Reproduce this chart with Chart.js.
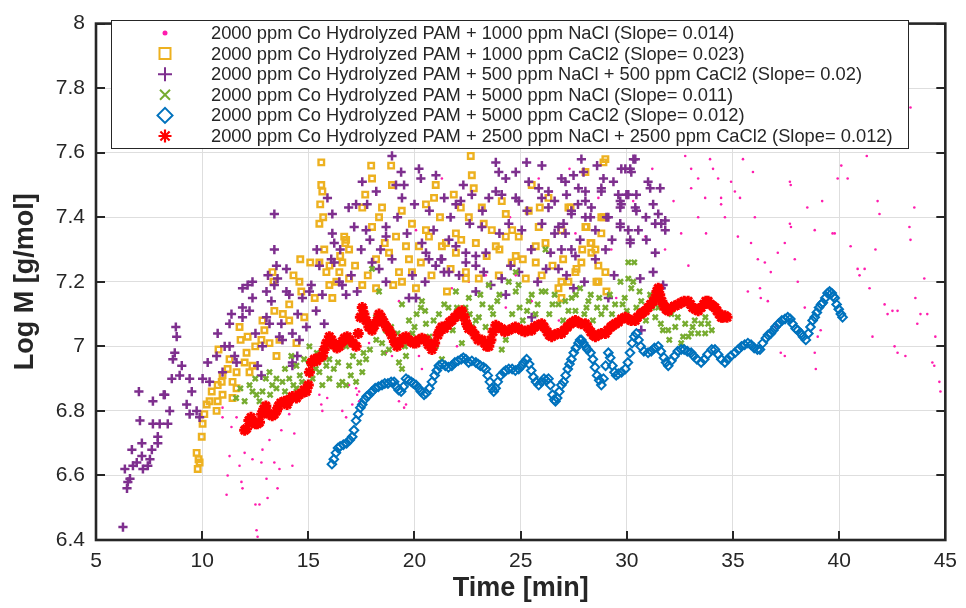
<!DOCTYPE html>
<html><head><meta charset="utf-8">
<script src="https://cdn.jsdelivr.net/npm/chart.js@4.4.1/dist/chart.umd.min.js"></script>
<style>html,body{margin:0;padding:0;background:#fff}#wrap{position:relative;width:966px;height:608px}</style>
</head><body><div id="wrap"><canvas id="c" width="966" height="608"></canvas></div>
<script>
const FONT = "'Liberation Sans', Arial, Helvetica, sans-serif";
const xTitle = 'Time [min]';
const yTitle = 'Log M [g/mol]';
const legendLabels = [
  '2000 ppm Co Hydrolyzed PAM + 1000 ppm NaCl (Slope= 0.014)',
  '2000 ppm Co Hydrolyzed PAM + 1000 ppm CaCl2 (Slope= 0.023)',
  '2000 ppm Co Hydrolyzed PAM + 500 ppm NaCl + 500 ppm CaCl2 (Slope= 0.02)',
  '2000 ppm Co Hydrolyzed PAM + 5000 ppm NaCl (Slope= 0.011)',
  '2000 ppm Co Hydrolyzed PAM + 5000 ppm CaCl2 (Slope= 0.012)',
  '2000 ppm Co Hydrolyzed PAM + 2500 ppm NaCl + 2500 ppm CaCl2 (Slope= 0.012)'
];

// Series 1: 1000 ppm NaCl (magenta dots)
const nacl1000 = [[10.96,6.78],[11.38,6.75],[11.29,6.66],[11.76,6.63],[11.2,6.6],[11.15,6.54],[11.85,6.58],[11.9,6.56],[12.0,6.67],[12.37,6.65],[12.84,6.68],[12.79,6.64],[13.03,6.59],[13.17,6.71],[13.55,6.56],[13.4,6.64],[13.64,6.62],[12.7,6.51],[13.08,6.53],[12.51,6.51],[12.56,6.43],[12.61,6.41],[13.73,6.74],[14.34,6.73],[14.25,6.63],[14.1,6.79],[10.96,6.81],[15.52,6.85],[15.66,6.8],[15.89,6.84],[16.6,6.8],[16.78,6.78],[19.27,6.83],[19.51,6.81],[17.25,6.87],[11.62,6.78],[13.97,6.83],[15.61,6.82],[17.39,6.83],[17.07,6.82],[20.35,6.93],[20.21,6.97],[17.86,7.01],[18.94,6.97],[16.92,6.88],[17.3,6.85],[22.56,7.2],[25.85,7.52],[26.46,7.48],[27.58,7.35],[29.27,7.3],[30.87,7.34],[28.66,7.46],[23.36,7.22],[21.76,7.18],[24.3,7.12],[19.27,7.14],[17.72,7.08],[18.66,6.98],[17.39,6.86],[19.6,6.82],[15.37,6.98],[24.77,7.22],[25.52,7.14],[20.07,7.36],[21.29,7.52],[22.0,7.0],[23.8,7.05],[26.8,7.08],[29.5,7.15],[30.3,7.45],[31.8,7.3],[32.2,7.45],[31.2,7.55],[32.9,7.25],[27.3,7.55],[24.5,7.4],[21.3,7.05],
  [32.75,7.59],[33.03,7.55],[33.36,7.52],[33.92,7.58],[34.06,7.55],[34.3,7.52],[34.91,7.51],[35.47,7.58],[35.94,7.54],[33.03,7.49],[33.69,7.46],[34.44,7.46],[35.09,7.48],[35.33,7.46],[34.44,7.44],[33.36,7.4],[34.62,7.4],[36.03,7.4],[37.68,7.51],[37.68,7.38],[37.73,7.37],[32.56,7.35],[33.73,7.35],[35.23,7.34],[35.85,7.32],[37.44,7.32],[37.91,7.27],[36.17,7.27],[36.5,7.26],[36.78,7.23],[35.7,7.17],[36.27,7.18],[36.64,7.14],[36.31,7.15],[38.05,7.2],[38.38,7.12],[39.13,7.05],[38.99,7.03],[37.44,6.97],[38.9,6.93],[38.85,6.98],[39.79,7.35],[39.69,7.35],[39.93,7.52],[40.4,7.52],[40.54,7.31],[40.87,7.24],[41.2,7.24],[40.96,7.22],[41.43,7.18],[41.71,7.3],[41.81,7.45],[41.9,7.41],[42.14,7.13],[42.28,7.1],[42.51,7.11],[42.75,7.11],[41.57,7.03],[42.61,7.0],[42.75,6.98],[43.12,6.97],[43.36,7.33],[43.31,7.37],[43.54,7.43],[43.59,7.15],[43.68,7.07],[44.01,7.21],[43.83,7.1],[44.15,7.1],[44.53,7.03],[44.39,6.95],[44.48,6.94],[44.72,6.89],[44.77,6.86],[43.36,7.74],[37.72,7.5],[38.85,7.36],[37.11,7.29],[37.0,7.06],[37.25,6.98],[40.1,7.56],[41.3,7.59],[38.5,7.43],[39.2,7.45]];

// Series 2: 1000 ppm CaCl2 (orange squares)
const cacl1000 = [[9.74,6.67],[9.88,6.64],[9.79,6.62],[9.83,6.65],[9.98,6.72],[10.02,6.76],[10.1,6.79],[10.21,6.82],[10.35,6.83],[10.45,6.86],[10.68,6.8],[10.73,6.83],[10.73,6.88],[10.92,6.89],[10.96,6.85],[10.96,6.91],[10.77,6.99],[11.29,6.96],[11.43,6.84],[11.43,6.89],[11.62,6.87],[11.62,6.92],[11.76,7.06],[11.81,7.02],[12.0,6.95],[12.09,6.98],[12.14,7.03],[12.23,6.92],[12.37,6.94],[12.79,7.02],[12.84,7.08],[12.93,7.05],[13.17,7.01],[13.31,7.23],[13.36,7.2],[13.4,7.11],[13.5,6.97],[13.64,7.02],[14.1,7.13],[14.1,7.08],[14.44,7.01],[14.58,7.2],[14.62,7.27],[14.67,7.17],[14.81,7.09],[15.09,7.26],[15.52,7.26],[15.52,7.38],[15.56,7.44],[15.61,7.57],[15.61,7.5],[15.66,7.48],[15.7,7.4],[15.75,7.3],[15.85,7.23],[15.99,7.19],[16.13,7.15],[16.32,7.2],[16.46,7.23],[16.6,7.26],[16.69,7.34],[16.74,7.32],[16.78,7.33],[16.92,7.3],[16.92,7.21],[17.54,7.43],[17.54,7.19],[17.68,7.47],[17.96,7.56],[18.0,7.52],[18.0,7.37],[18.19,7.27],[18.19,7.18],[18.33,7.4],[18.47,7.43],[18.8,7.29],[18.9,7.56],[18.94,7.5],[19.13,7.34],[19.27,7.23],[19.41,7.2],[19.6,7.31],[19.74,7.27],[19.88,7.38],[19.88,7.23],[20.07,7.18],[20.21,7.31],[20.54,7.44],[20.54,7.36],[20.68,7.34],[20.92,7.46],[21.0,7.5],[21.29,7.31],[21.48,7.32],[21.53,7.17],[21.85,7.47],[21.95,7.35],[21.95,7.29],[22.18,7.43],[22.42,7.23],[22.42,7.21],[22.56,7.4],[22.65,7.59],[22.7,7.53],[22.79,7.49],[22.89,7.32],[23.03,7.21],[23.17,7.43],[23.26,7.38],[23.64,7.36],[23.83,7.31],[23.97,7.22],[24.11,7.45],[24.3,7.41],[24.3,7.34],[24.58,7.26],[24.77,7.28],[24.91,7.34],[25.24,7.21],[25.38,7.42],[25.52,7.5],[25.71,7.31],[25.71,7.26],[25.85,7.37],[25.99,7.22],[26.17,7.32],[26.31,7.46],[26.78,7.18],[26.92,7.36],[26.92,7.2],[27.25,7.2],[27.35,7.43],[27.58,7.23],[27.86,7.26],[28.05,7.37],[28.05,7.54],[28.33,7.32],[28.33,7.29],[28.52,7.3],[28.66,7.25],[28.66,7.2],[28.8,7.4],[28.9,7.57],[28.99,7.58],[28.99,7.23],[29.04,7.17],[27.25,7.43],[28.1,7.37],[28.8,7.35],[28.29,7.32],[27.63,7.24],[28.57,7.2],[26.92,7.15],[28.9,7.4],
  [13.8,7.1],[14.3,7.22],[15.3,7.15],[16.5,7.28],[17.2,7.25],[17.8,7.22],[18.6,7.32],[19.4,7.42],[20.3,7.26],[20.8,7.22],[21.7,7.24],[22.2,7.33],[23.4,7.28],[24.0,7.3],[24.6,7.36],[25.1,7.27],[25.9,7.43],[26.5,7.25],[27.0,7.27],[27.9,7.3],[11.2,6.93],[12.5,7.0],[16.0,7.25],[19.0,7.19],[21.2,7.4]];

// Series 3: 500 ppm NaCl + 500 ppm CaCl2 (purple plus)
const mix500 = [[6.27,6.44],[6.46,6.56],[6.5,6.58],[6.6,6.59],[6.36,6.62],[6.74,6.63],[6.92,6.64],[7.21,6.62],[7.44,6.63],[7.16,6.66],[7.54,6.65],[6.69,6.68],[7.16,6.7],[7.63,6.68],[7.91,6.7],[7.91,6.72],[7.68,6.76],[8.0,6.76],[8.38,6.76],[7.07,6.77],[7.68,6.83],[8.24,6.85],[8.47,6.8],[9.27,6.82],[9.41,6.79],[9.74,6.8],[9.88,6.78],[9.51,6.86],[7.02,6.86],[8.19,6.85],[8.57,6.9],[8.94,6.91],[9.41,6.9],[9.04,6.94],[8.62,6.96],[8.71,6.98],[8.76,7.06],[8.8,7.03],[10.02,6.9],[10.35,6.89],[10.26,6.95],[10.68,6.97],[11.06,7.0],[11.29,7.0],[10.96,6.92],[11.53,6.97],[11.62,6.95],[12.61,6.94],[12.79,6.91],[10.73,7.04],[11.38,7.1],[11.29,7.07],[11.9,7.12],[12.23,7.11],[12.37,7.15],[11.9,7.09],[11.9,7.18],[12.14,7.19],[12.51,7.04],[13.03,7.09],[13.17,7.07],[13.03,7.17],[13.26,7.14],[13.4,7.19],[13.5,7.25],[13.97,7.24],[13.55,7.21],[13.4,7.3],[13.4,7.41],[13.97,7.17],[14.1,7.16],[13.73,7.07],[13.64,7.03],[14.25,7.04],[14.72,7.15],[15.05,7.17],[15.14,7.19],[15.66,7.16],[15.52,7.25],[16.08,7.27],[16.22,7.26],[16.13,7.41],[16.13,7.35],[16.22,7.32],[16.46,7.2],[16.78,7.16],[15.37,7.11],[14.91,7.06],[14.58,7.02],[14.25,6.95],[14.48,6.97],[13.78,7.02],[15.75,7.07],[14.25,6.94],[12.84,7.0],[12.37,7.2],
  [18.94,7.59],[19.37,7.54],[19.13,7.5],[19.51,7.5],[17.54,7.51],[17.25,7.44],[17.77,7.44],[17.16,7.37],[17.72,7.36],[18.66,7.37],[18.66,7.34],[19.65,7.35],[19.41,7.46],[20.21,7.55],[20.3,7.52],[21.01,7.53],[21.95,7.44],[22.18,7.45],[22.7,7.47],[23.17,7.37],[20.54,7.29],[20.68,7.27],[21.29,7.27],[21.39,7.23],[20.35,7.32],[21.62,7.33],[21.95,7.31],[22.42,7.26],[22.89,7.25],[23.26,7.23],[23.36,7.29],[23.83,7.48],[24.3,7.52],[24.77,7.54],[23.97,7.54],[23.83,7.57],[25.38,7.51],[25.85,7.49],[25.28,7.57],[24.77,7.46],[24.91,7.45],[24.11,7.47],[24.44,7.38],[25.05,7.36],[25.99,7.46],[26.31,7.48],[26.31,7.43],[26.92,7.52],[27.49,7.53],[28.05,7.48],[27.16,7.47],[26.78,7.37],[27.39,7.41],[28.05,7.4],[28.33,7.43],[28.52,7.36],[28.9,7.52],[29.37,7.51],[28.8,7.48],[29.74,7.55],[30.16,7.55],[30.31,7.58],[29.6,7.47],[29.74,7.44],[29.98,7.47],[30.45,7.47],[30.4,7.43],[29.04,7.4],[29.69,7.37],[30.16,7.33],[30.54,7.36],[30.63,7.21],[28.52,7.27],[27.58,7.28],[26.92,7.3],[26.41,7.29],[26.78,7.24],[25.52,7.09],[24.91,7.23],[24.53,7.25],[24.11,7.21],[22.89,7.17],[22.89,7.28],[22.42,7.29],[21.62,7.23],[20.07,7.15],[19.74,7.15],[18.66,7.2],[18.33,7.24],[18.0,7.26],[17.49,7.3],[17.02,7.22],[16.6,7.19],[18.94,7.27],[21.24,7.27],
  [27.86,7.58],[27.96,7.54],[27.11,7.51],[27.72,7.49],[28.8,7.49],[29.93,7.55],[30.21,7.54],[30.4,7.58],[31.0,7.51],[31.1,7.49],[31.57,7.49],[30.07,7.47],[29.69,7.45],[29.69,7.43],[30.45,7.42],[31.24,7.44],[31.48,7.41],[31.62,7.38],[31.81,7.39],[31.34,7.38],[31.81,7.36],[30.92,7.33],[30.07,7.36],[30.16,7.32],[29.69,7.38],[29.13,7.4],[28.05,7.45],[27.39,7.42],[27.02,7.38],[27.11,7.35],[27.39,7.3],[27.16,7.22],[27.49,7.18],[31.34,7.29],[31.24,7.23],[31.71,7.19],[30.68,7.05],[29.13,7.15],[28.29,7.4],[31.62,7.18],
  [19.9,7.22],[20.5,7.2],[21.0,7.25],[22.1,7.22],[23.6,7.19],[24.3,7.16],[25.8,7.2],[26.2,7.24],[28.0,7.2],[29.4,7.22],[23.2,7.42],[22.3,7.5],[21.4,7.46],[20.7,7.42],[18.2,7.48],[17.9,7.33],[16.9,7.43],[15.9,7.46],[26.0,7.56],[26.6,7.35],[27.8,7.33],[29.0,7.3],[25.5,7.3],
  [13.1,7.22],[14.5,7.1],[15.4,7.3],[16.5,7.3],[17.3,7.17],[18.4,7.3],[19.2,7.4],[20.0,7.44],[20.9,7.36],[21.7,7.4],[22.6,7.38],[23.5,7.46],[24.0,7.35],[25.3,7.42],[26.0,7.38],[26.6,7.45],[27.7,7.44],[28.6,7.56],[29.3,7.33],[30.9,7.4]];

// Series 4: 5000 ppm NaCl (green x)
const nacl5000 = [[11.6,6.84],[11.8,6.87],[12.0,6.83],[12.23,6.88],[12.37,6.86],[12.56,6.85],[12.7,6.83],[12.84,6.86],[13.0,6.9],[13.17,6.92],[13.3,6.88],[13.5,6.87],[13.5,6.9],[13.78,6.89],[13.9,6.93],[14.1,6.9],[14.2,6.97],[14.3,6.88],[14.44,6.87],[14.44,6.94],[14.6,6.91],[14.8,6.96],[15.05,6.95],[15.05,7.0],[15.2,6.9],[15.35,6.93],[15.52,6.92],[15.66,6.88],[15.66,6.96],[15.85,6.94],[15.99,6.96],[15.99,6.9],[16.2,6.93],[16.46,6.88],[16.6,6.89],[16.78,6.88],[16.78,7.0],[16.92,6.94],[17.1,6.97],[17.25,6.89],[17.4,6.95],[17.54,6.92],[17.72,6.96],[17.9,6.99],[18.0,7.24],[18.19,7.09],[18.33,7.17],[18.47,7.01],[18.55,6.98],[18.65,7.05],[18.8,6.99],[19.0,7.02],[19.27,6.95],[19.41,6.93],[19.41,7.13],[19.55,7.0],[19.74,7.08],[19.9,7.04],[20.1,7.1],[20.3,7.12],[20.35,7.14],[20.54,7.07],[20.7,7.03],[21.0,7.0],[21.15,7.1],[21.29,6.96],[21.45,7.06],[21.6,7.12],[21.8,7.05],[21.95,7.17],[22.1,7.09],[22.23,7.01],[22.4,7.12],[22.56,7.15],[22.7,7.06],[22.89,7.08],[23.03,7.09],[23.2,7.13],[23.35,7.06],[23.5,7.19],[23.7,7.1],[23.9,7.14],[24.11,6.99],[24.3,7.02],[24.44,7.2],[24.6,7.1],[24.77,7.17],[24.77,7.23],[24.95,7.12],[25.1,7.08],[25.38,7.14],[25.52,7.16],[25.7,7.1],[25.99,7.17],[26.17,7.17],[26.17,7.3],[26.35,7.1],[26.5,7.13],[26.78,7.13],[27.0,7.08],[27.25,7.11],[27.4,7.15],[27.58,7.11],[27.8,7.18],[28.0,7.1],[28.19,7.14],[28.3,7.16],[28.4,7.08],[28.6,7.12],[28.8,7.1],[28.99,7.12],[29.2,7.16],[29.45,7.13],[29.7,7.2],[29.9,7.15],[30.07,7.26],[30.07,7.21],[30.21,7.18],[30.3,7.2],[30.35,7.26],[30.45,7.12],[30.68,7.14],[30.9,7.08],[31.1,7.16],[31.34,7.09],[31.48,7.12],[31.7,7.05],[31.95,7.05],[32.1,7.1],[32.28,7.06],[32.56,7.01],[32.65,7.03],[32.75,7.07],[32.9,7.03],[33.03,7.04],[33.2,7.08],[33.36,7.04],[33.5,7.07],[33.69,7.04],[33.83,7.07],[34.0,7.05],
  [12.5,6.9],[13.2,6.85],[13.9,6.86],[14.7,6.89],[15.4,6.98],[16.0,7.0],[16.4,6.95],[17.0,6.91],[17.6,6.98],[18.2,7.02],[18.9,7.06],[19.2,7.04],[19.6,6.97],[20.0,7.06],[20.5,7.11],[20.9,7.08],[21.4,7.13],[22.0,7.12],[22.6,7.1],[23.1,7.16],[23.6,7.12],[24.0,7.16],[24.9,7.19],[25.3,7.11],[25.8,7.13],[26.6,7.16],[27.1,7.14],[27.6,7.16],[28.1,7.12],[28.7,7.15],[29.3,7.1],[29.8,7.13],[30.6,7.17],[31.2,7.12],[31.6,7.07],[32.4,7.09],[33.1,7.06],[33.7,7.09],[32.0,7.02],[30.0,7.11]];

// Series 5: 5000 ppm CaCl2 (blue diamonds)
const cacl5000 = [[16.11,6.635],[16.2,6.65],[16.3,6.67],[16.4,6.685],[16.5,6.69],[16.65,6.695],[16.8,6.7],[16.95,6.71],[17.07,6.72],[17.15,6.74],[17.25,6.77],[17.35,6.79],[17.45,6.81],[17.54,6.82],[17.65,6.835],[17.75,6.845],[17.86,6.85],[18.0,6.86],[18.15,6.87],[18.3,6.875],[18.47,6.88],[18.6,6.885],[18.75,6.885],[18.9,6.89],[19.04,6.89],[19.15,6.875],[19.25,6.865],[19.37,6.86],[19.48,6.875],[19.6,6.9],[19.72,6.895],[19.85,6.89],[19.95,6.885],[20.07,6.88],[20.2,6.87],[20.3,6.86],[20.45,6.85],[20.55,6.855],[20.7,6.87],[20.82,6.89],[20.95,6.91],[21.05,6.925],[21.15,6.94],[21.3,6.945],[21.45,6.94],[21.6,6.935],[21.76,6.94],[21.9,6.95],[22.05,6.955],[22.2,6.96],[22.3,6.965],[22.42,6.96],[22.55,6.95],[22.7,6.955],[22.89,6.95],[23.0,6.945],[23.1,6.94],[23.25,6.935],[23.36,6.93],[23.45,6.91],[23.55,6.89],[23.65,6.87],[23.73,6.86],[23.82,6.87],[23.92,6.89],[24.06,6.91],[24.2,6.92],[24.3,6.925],[24.44,6.93],[24.6,6.93],[24.75,6.925],[24.91,6.93],[25.05,6.94],[25.15,6.95],[25.28,6.96],[25.4,6.945],[25.5,6.925],[25.6,6.905],[25.72,6.89],[25.85,6.88],[25.98,6.89],[26.1,6.9],[26.2,6.895],[26.31,6.9],[26.4,6.88],[26.5,6.85],[26.58,6.835],[26.64,6.83],[26.72,6.84],[26.82,6.86],[26.92,6.88],[27.02,6.89],[27.12,6.91],[27.22,6.93],[27.3,6.945],[27.39,6.96],[27.5,6.98],[27.6,6.995],[27.72,7.01],[27.8,7.02],[27.86,7.02],[27.95,7.01],[28.05,7.0],[28.15,6.99],[28.29,6.98],[28.4,6.96],[28.5,6.935],[28.6,6.91],[28.7,6.895],[28.8,6.88],[28.9,6.9],[29.0,6.94],[29.13,6.98],[29.22,6.965],[29.32,6.94],[29.42,6.92],[29.5,6.91],[29.6,6.915],[29.75,6.92],[29.93,6.93],[30.05,6.95],[30.15,6.98],[30.25,7.01],[30.35,7.03],[30.45,7.04],[30.55,7.02],[30.65,7.0],[30.8,6.985],[31.0,6.98],[31.15,6.985],[31.3,6.995],[31.48,7.0],[31.6,6.985],[31.75,6.965],[31.85,6.95],[31.95,6.94],[32.1,6.955],[32.25,6.97],[32.4,6.985],[32.56,6.99],[32.7,6.99],[32.85,6.985],[33.03,6.98],[33.15,6.97],[33.3,6.96],[33.5,6.95],[33.65,6.96],[33.8,6.975],[34.0,6.99],[34.15,6.99],[34.3,6.975],[34.45,6.96],[34.62,6.95],[34.75,6.96],[34.9,6.97],[35.09,6.98],[35.25,6.99],[35.4,7.0],[35.55,7.005],[35.7,7.01],[35.85,7.005],[36.0,6.995],[36.15,6.99],[36.27,6.99],[36.4,7.01],[36.55,7.025],[36.65,7.035],[36.78,7.04],[36.9,7.05],[37.0,7.06],[37.15,7.07],[37.3,7.08],[37.45,7.085],[37.58,7.09],[37.7,7.085],[37.8,7.07],[37.95,7.055],[38.05,7.05],[38.2,7.04],[38.3,7.03],[38.43,7.02],[38.55,7.04],[38.65,7.06],[38.75,7.08],[38.85,7.09],[38.95,7.105],[39.05,7.12],[39.15,7.13],[39.23,7.135],[39.35,7.15],[39.45,7.165],[39.55,7.17],[39.65,7.165],[39.72,7.155],[39.79,7.15],[39.88,7.13],[39.98,7.115],[40.08,7.1],[40.16,7.09]];

// Series 6: 2500 ppm NaCl + 2500 ppm CaCl2 (red asterisks)
const mix2500 = [[12.0,6.74],[12.09,6.745],[12.2,6.77],[12.3,6.78],[12.4,6.765],[12.5,6.76],[12.6,6.76],[12.7,6.765],[12.8,6.79],[12.9,6.805],[13.0,6.815],[13.03,6.8],[13.15,6.79],[13.3,6.785],[13.4,6.79],[13.5,6.8],[13.6,6.815],[13.7,6.825],[13.87,6.83],[14.0,6.82],[14.1,6.835],[14.25,6.845],[14.44,6.84],[14.55,6.85],[14.7,6.855],[14.8,6.865],[14.9,6.86],[15.0,6.88],[15.05,6.92],[15.15,6.95],[15.28,6.96],[15.4,6.955],[15.5,6.965],[15.66,6.97],[15.75,6.99],[15.85,7.01],[15.99,7.03],[16.1,7.02],[16.2,7.005],[16.35,6.995],[16.46,7.0],[16.6,7.015],[16.7,7.025],[16.83,7.03],[16.95,7.02],[17.1,7.01],[17.25,7.0],[17.35,7.04],[17.45,7.09],[17.54,7.12],[17.62,7.1],[17.72,7.08],[17.85,7.06],[18.0,7.05],[18.12,7.065],[18.25,7.08],[18.33,7.1],[18.43,7.09],[18.55,7.075],[18.68,7.06],[18.8,7.05],[18.92,7.035],[19.05,7.015],[19.18,7.0],[19.3,7.01],[19.45,7.025],[19.6,7.03],[19.72,7.02],[19.85,7.015],[19.95,7.01],[20.07,7.01],[20.2,7.02],[20.35,7.025],[20.54,7.02],[20.65,7.005],[20.82,6.99],[20.95,7.01],[21.1,7.035],[21.2,7.05],[21.29,7.06],[21.4,7.055],[21.55,7.065],[21.65,7.075],[21.76,7.08],[21.9,7.09],[22.05,7.1],[22.15,7.105],[22.23,7.11],[22.35,7.09],[22.45,7.07],[22.55,7.055],[22.7,7.05],[22.85,7.035],[23.0,7.02],[23.17,7.02],[23.3,7.01],[23.4,7.0],[23.5,7.0],[23.6,7.02],[23.7,7.045],[23.83,7.065],[23.95,7.06],[24.1,7.055],[24.25,7.045],[24.44,7.05],[24.6,7.055],[24.75,7.06],[24.9,7.055],[25.05,7.05],[25.2,7.045],[25.35,7.05],[25.52,7.05],[25.65,7.06],[25.8,7.065],[25.99,7.07],[26.1,7.06],[26.25,7.045],[26.35,7.035],[26.46,7.03],[26.6,7.035],[26.75,7.04],[26.92,7.04],[27.05,7.05],[27.2,7.06],[27.35,7.07],[27.45,7.075],[27.58,7.08],[27.7,7.075],[27.85,7.07],[28.05,7.07],[28.15,7.06],[28.3,7.045],[28.42,7.035],[28.52,7.03],[28.65,7.035],[28.8,7.04],[28.99,7.04],[29.1,7.05],[29.25,7.06],[29.35,7.065],[29.46,7.07],[29.6,7.075],[29.75,7.085],[29.93,7.09],[30.05,7.085],[30.2,7.08],[30.4,7.08],[30.5,7.09],[30.65,7.1],[30.75,7.105],[30.87,7.11],[31.0,7.12],[31.12,7.13],[31.25,7.14],[31.34,7.15],[31.42,7.17],[31.48,7.18],[31.55,7.16],[31.65,7.14],[31.75,7.125],[31.85,7.115],[31.95,7.11],[32.1,7.12],[32.25,7.125],[32.42,7.13],[32.55,7.135],[32.7,7.14],[32.89,7.14],[33.0,7.13],[33.1,7.12],[33.22,7.115],[33.36,7.11],[33.5,7.12],[33.62,7.13],[33.72,7.14],[33.83,7.14],[33.95,7.13],[34.05,7.125],[34.15,7.12],[34.25,7.11],[34.35,7.1],[34.45,7.09],[34.53,7.09],[34.62,7.095],[34.72,7.09]];

const xTicks = [5,10,15,20,25,30,35,40,45];
const yTicks = [6.4,6.6,6.8,7,7.2,7.4,7.6,7.8,8];

const seriesData = [nacl1000, cacl1000, mix500, nacl5000, cacl5000, mix2500];
const colors = ['#ff1cae','#EDB120','#7E2F8E','#77AC30','#0072BD','#FF0000'];
const styles = [
  {pointStyle:'circle', radius:1.3, bw:0, fill:true, order:6},
  {pointStyle:'rect', radius:3.9, bw:2.4, fill:false, order:5},
  {pointStyle:'cross', radius:4.6, bw:2.5, fill:false, order:4},
  {pointStyle:'crossRot', radius:3.6, bw:2.5, fill:false, order:3},
  {pointStyle:'rectRot', radius:4.3, bw:2, fill:false, order:2},
  {pointStyle:'star', radius:5.5, bw:3, fill:false, order:1}
];

const datasets = seriesData.map((pts,i)=>({
  label: legendLabels[i],
  data: pts.map(p=>({x:p[0], y:p[1]})),
  showLine:false,
  pointStyle: styles[i].pointStyle,
  pointRadius: styles[i].radius,
  pointBorderWidth: styles[i].bw,
  borderColor: colors[i],
  backgroundColor: styles[i].fill ? colors[i] : 'rgba(0,0,0,0)',
  pointBackgroundColor: styles[i].fill ? colors[i] : 'rgba(0,0,0,0)',
  pointBorderColor: colors[i],
  order: styles[i].order
}));

function drawMarker(ctx, style, x, y, r, color, lw){
  ctx.save();
  ctx.strokeStyle = color; ctx.fillStyle = color; ctx.lineWidth = lw;
  ctx.beginPath();
  if (style==='circle'){ ctx.arc(x,y,r,0,Math.PI*2); ctx.fill(); }
  else if (style==='rect'){ ctx.rect(x-r,y-r,2*r,2*r); ctx.stroke(); }
  else if (style==='cross'){ ctx.moveTo(x-r,y); ctx.lineTo(x+r,y); ctx.moveTo(x,y-r); ctx.lineTo(x,y+r); ctx.stroke(); }
  else if (style==='crossRot'){ ctx.moveTo(x-r,y-r); ctx.lineTo(x+r,y+r); ctx.moveTo(x-r,y+r); ctx.lineTo(x+r,y-r); ctx.stroke(); }
  else if (style==='rectRot'){ ctx.moveTo(x-r,y); ctx.lineTo(x,y-r); ctx.lineTo(x+r,y); ctx.lineTo(x,y+r); ctx.closePath(); ctx.stroke(); }
  else if (style==='star'){
    for (let k=0;k<4;k++){ const a=k*Math.PI/4; ctx.moveTo(x-Math.cos(a)*r,y-Math.sin(a)*r); ctx.lineTo(x+Math.cos(a)*r,y+Math.sin(a)*r); }
    ctx.stroke();
  }
  ctx.restore();
}

const framePlugin = {
  id:'frameTicks',
  afterDatasetsDraw(chart){
    const {ctx, chartArea:a, scales:{x,y}} = chart;
    ctx.save();
    ctx.strokeStyle = '#262626';
    ctx.lineWidth = 2;
    ctx.beginPath();
    xTicks.forEach(v=>{ const px=Math.round(x.getPixelForValue(v));
      ctx.moveTo(px,a.bottom); ctx.lineTo(px,a.bottom-9);
      ctx.moveTo(px,a.top); ctx.lineTo(px,a.top+9); });
    yTicks.forEach(v=>{ const py=Math.round(y.getPixelForValue(v));
      ctx.moveTo(a.left,py); ctx.lineTo(a.left+9,py);
      ctx.moveTo(a.right,py); ctx.lineTo(a.right-9,py); });
    ctx.stroke();
    ctx.lineWidth = 2.6;
    ctx.strokeRect(a.left, a.top, a.right-a.left, a.bottom-a.top);
    ctx.restore();
  }
};

const legendPlugin = {
  id:'insideLegend',
  afterDraw(chart){
    const ctx = chart.ctx;
    const bx=111, by=20, bw=797, bh=128;
    ctx.save();
    ctx.fillStyle='#ffffff';
    ctx.fillRect(bx,by,bw,bh);
    ctx.strokeStyle='#262626'; ctx.lineWidth=1;
    ctx.strokeRect(bx+0.5,by+0.5,bw,bh);
    let size = 18;
    ctx.font = size+'px '+FONT;
    const w = ctx.measureText(legendLabels[5]).width;
    size = size*682/w;
    ctx.font = size.toFixed(2)+'px '+FONT;
    ctx.textBaseline='middle';
    ctx.textAlign='left';
    const mk = [
      ['circle',2.5,0],['rect',5.5,2],['cross',7,2],['crossRot',5,2],['rectRot',7.5,2],['star',6.5,2.2]
    ];
    for (let i=0;i<legendLabels.length;i++){
      const cy = by + 13 + i*20.6;
      drawMarker(ctx, mk[i][0], 165, cy, mk[i][1], colors[i], mk[i][2]);
      ctx.fillStyle='#262626';
      ctx.fillText(legendLabels[i], 211, cy+1);
    }
    ctx.restore();
  }
};

new Chart(document.getElementById('c'), {
  type:'scatter',
  data:{datasets},
  options:{
    responsive:false,
    animation:false,
    events:[],
    layout:{padding:{top:13,right:18,left:0,bottom:0}},
    plugins:{legend:{display:false}, tooltip:{enabled:false}},
    scales:{
      x:{
        type:'linear', min:5, max:45,
        afterBuildTicks:s=>{ s.ticks = xTicks.map(v=>({value:v})); },
        ticks:{font:{family:FONT,size:21},color:'#262626',padding:9,maxRotation:0,callback:v=>String(v)},
        grid:{color:'#dedede',lineWidth:1,drawTicks:false},
        border:{display:false},
        title:{display:true,text:xTitle,color:'#262626',font:{family:FONT,size:27,weight:'bold'},padding:{top:0,bottom:3}},
        afterFit:s=>{ s.height=68; }
      },
      y:{
        type:'linear', min:6.4, max:8,
        afterBuildTicks:s=>{ s.ticks = yTicks.map(v=>({value:v})); },
        ticks:{font:{family:FONT,size:21},color:'#262626',padding:11,callback:v=>String(+Number(v).toFixed(1))},
        grid:{color:'#dedede',lineWidth:1,drawTicks:false},
        border:{display:false},
        title:{display:true,text:yTitle,color:'#262626',font:{family:FONT,size:27,weight:'bold'},padding:{top:9,bottom:0}},
        afterFit:s=>{ s.width=96; }
      }
    }
  },
  plugins:[framePlugin, legendPlugin]
});
</script>
</body></html>
